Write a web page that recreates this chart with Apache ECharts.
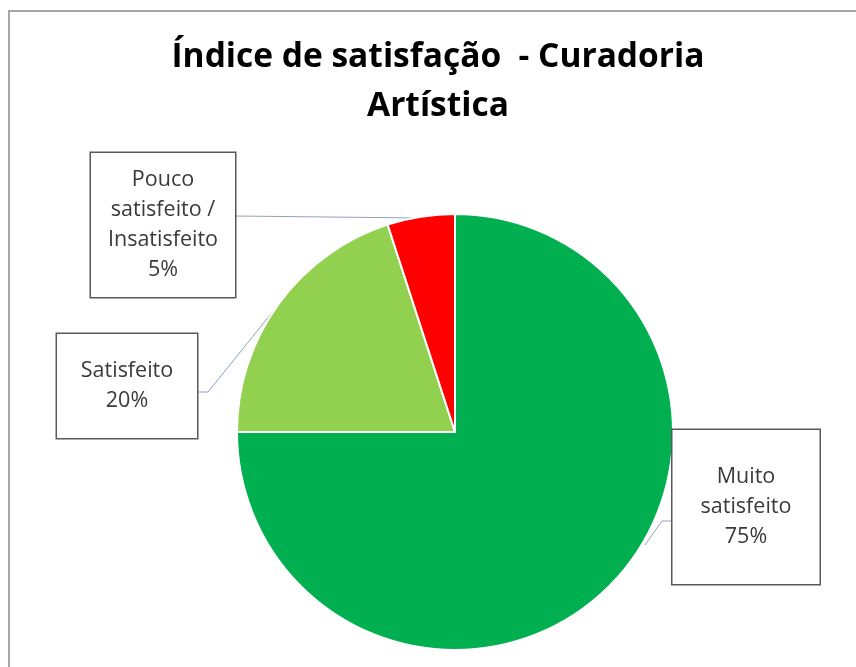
<!DOCTYPE html>
<html>
<head>
<meta charset="utf-8">
<script src="https://cdn.jsdelivr.net/npm/echarts@6/dist/echarts.min.js"></script>
<style>
  html, body { margin: 0; padding: 0; background: #fff; }
  #chart { width: 856px; height: 667px; }
</style>
</head>
<body>
<div id="chart"></div>
<script>
const categories = ['Muito\nsatisfeito', 'Satisfeito', 'Pouco\nsatisfeito /\nInsatisfeito']
const percentages = [75, 20, 5]
const sliceColors = ['#00B050', '#92D050', '#FF0000']

// label boxes: center, size, leader line
const boxes = [
  { x: 746, y: 507, w: 127, pad: [32, 10], line: [[673, 521], [662, 521], [645, 545]] },
  { x: 127, y: 386, w: 120, pad: [22, 10], line: [[197, 392], [208, 392], [279, 304]] },
  { x: 163, y: 225, w: 124, pad: [12, 10], line: [[235, 216], [421, 218]] }
]

const chart = echarts.init(document.getElementById('chart'))

const option = {
  backgroundColor: '#fff',
  animation: false,
  graphic: [
    {
      type: 'rect',
      shape: { x: 9, y: 11, width: 900, height: 700 },
      style: { fill: 'none', stroke: '#a6a6a6', lineWidth: 2 },
      z: -1
    },
    {
      type: 'text',
      x: 438,
      y: 33,
      style: {
        text: 'Índice de satisfação  - Curadoria\nArtística',
        font: 'bold 33.5px "Open Sans", sans-serif',
        lineHeight: 49,
        fill: '#000',
        align: 'center',
        verticalAlign: 'top'
      }
    }
  ],
  series: [
    {
      type: 'pie',
      center: [455, 432],
      radius: 218,
      startAngle: 90,
      clockwise: true,
      itemStyle: { borderColor: '#fff', borderWidth: 2 },
      label: {
        show: true,
        position: 'outside',
        formatter: p => p.name + '\n' + p.value + '%',
        fontFamily: '"Open Sans", sans-serif',
        fontSize: 21.5,
        lineHeight: 30,
        color: '#3a3a3a',
        backgroundColor: '#fff',
        borderColor: '#595959',
        borderWidth: 1.5,
        align: 'center'
      },
      labelLine: {
        show: true,
        lineStyle: { color: '#8EA2C6', width: 1 }
      },
      labelLayout: params => {
        const b = boxes[params.dataIndex]
        return {
          x: b.x,
          y: b.y,
          align: 'center',
          verticalAlign: 'middle',
          labelLinePoints: b.line
        }
      },
      data: categories.map((c, i) => ({
        name: c,
        value: percentages[i],
        itemStyle: { color: sliceColors[i] },
        label: { width: boxes[i].w, padding: boxes[i].pad }
      }))
    }
  ]
}

chart.setOption(option)
</script>
</body>
</html>
